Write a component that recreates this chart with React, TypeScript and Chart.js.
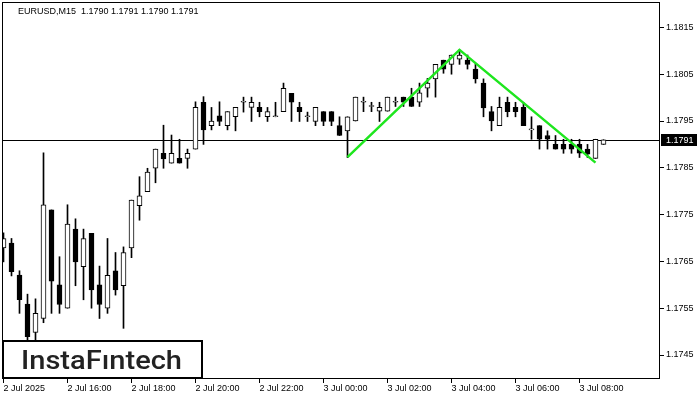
import { useEffect, useRef } from 'react';
import { Chart, registerables } from 'chart.js';

Chart.register(...registerables);

// EURUSD M15, one bar per 15 minutes starting 2 Jul 2025 14:00
const opens = [
  1.17679, 1.17689, 1.17621, 1.17559, 1.17498, 1.17528, 1.17760, 1.17600, 1.17550, 1.17719,
  1.17639, 1.17710, 1.17600, 1.17550, 1.17630, 1.17598, 1.17679, 1.17769, 1.17799, 1.17849,
  1.17881, 1.17860, 1.17870, 1.17870, 1.17890, 1.17990, 1.17940, 1.17961, 1.17940, 1.17959,
  1.17990, 1.17979, 1.17979, 1.17959, 1.17959, 1.17970, 1.18009, 1.17979, 1.17959, 1.17949,
  1.17970, 1.17970, 1.17940, 1.17929, 1.17950, 1.17990, 1.17981, 1.17971, 1.17971, 1.17990,
  1.18001, 1.18001, 1.17990, 1.18020, 1.18040, 1.18080, 1.18071, 1.18082, 1.18080, 1.18061,
  1.18031, 1.17970, 1.17940, 1.17990, 1.17979, 1.17979, 1.17931, 1.17940, 1.17919, 1.17900,
  1.17900, 1.17900, 1.17900, 1.17890, 1.17870, 1.17900,
];
const highs = [
  1.17711, 1.17699, 1.17630, 1.17580, 1.17570, 1.17882, 1.17760, 1.17660, 1.17771, 1.17741,
  1.17719, 1.17710, 1.17640, 1.17699, 1.17669, 1.17681, 1.17781, 1.17831, 1.17849, 1.17890,
  1.17941, 1.17920, 1.17911, 1.17890, 1.17991, 1.18002, 1.17979, 1.17991, 1.17970, 1.17979,
  1.18001, 1.18001, 1.17990, 1.17979, 1.17990, 1.18031, 1.18009, 1.17990, 1.17969, 1.17979,
  1.17970, 1.17970, 1.17959, 1.17959, 1.18001, 1.18001, 1.17990, 1.17990, 1.18001, 1.18001,
  1.18001, 1.18020, 1.18031, 1.18041, 1.18071, 1.18080, 1.18091, 1.18102, 1.18091, 1.18072,
  1.18040, 1.17981, 1.18001, 1.18001, 1.17990, 1.17990, 1.17959, 1.17940, 1.17929, 1.17919,
  1.17911, 1.17911, 1.17911, 1.17900, 1.17911, 1.17910,
];
const lows = [
  1.17649, 1.17619, 1.17539, 1.17482, 1.17482, 1.17519, 1.17539, 1.17539, 1.17550, 1.17598,
  1.17568, 1.17550, 1.17528, 1.17539, 1.17578, 1.17507, 1.17658, 1.17738, 1.17799, 1.17818,
  1.17849, 1.17860, 1.17860, 1.17849, 1.17890, 1.17900, 1.17931, 1.17940, 1.17931, 1.17929,
  1.17969, 1.17949, 1.17959, 1.17949, 1.17959, 1.17970, 1.17949, 1.17949, 1.17949, 1.17940,
  1.17940, 1.17940, 1.17919, 1.17872, 1.17950, 1.17970, 1.17970, 1.17949, 1.17971, 1.17981,
  1.17981, 1.17981, 1.17981, 1.18001, 1.18001, 1.18052, 1.18050, 1.18071, 1.18061, 1.18031,
  1.17959, 1.17929, 1.17940, 1.17959, 1.17959, 1.17940, 1.17911, 1.17890, 1.17890, 1.17890,
  1.17881, 1.17881, 1.17872, 1.17872, 1.17870, 1.17900,
];
const closes = [
  1.17699, 1.17628, 1.17568, 1.17489, 1.17539, 1.17771, 1.17608, 1.17558, 1.17730, 1.17649,
  1.17699, 1.17589, 1.17558, 1.17620, 1.17589, 1.17669, 1.17781, 1.17790, 1.17841, 1.17890,
  1.17869, 1.17881, 1.17860, 1.17881, 1.17979, 1.17931, 1.17950, 1.17949, 1.17970, 1.17979,
  1.17990, 1.17990, 1.17970, 1.17970, 1.17959, 1.18020, 1.17990, 1.17970, 1.17959, 1.17979,
  1.17949, 1.17949, 1.17919, 1.17959, 1.18001, 1.17990, 1.17981, 1.17979, 1.18001, 1.17990,
  1.17990, 1.17981, 1.18010, 1.18031, 1.18071, 1.18061, 1.18091, 1.18091, 1.18071, 1.18040,
  1.17978, 1.17950, 1.17979, 1.17970, 1.17970, 1.17940, 1.17931, 1.17911, 1.17911, 1.17890,
  1.17890, 1.17890, 1.17881, 1.17879, 1.17911, 1.17910,
];

// time-axis ticks (bar index → label)
const xTickIndex = [0, 8, 16, 24, 32, 40, 48, 56, 64, 72];
const xTickLabels = [
  '2 Jul 2025', '2 Jul 16:00', '2 Jul 18:00', '2 Jul 20:00', '2 Jul 22:00',
  '3 Jul 00:00', '3 Jul 02:00', '3 Jul 04:00', '3 Jul 06:00', '3 Jul 08:00',
];
const yTickValues = [1.1745, 1.1755, 1.1765, 1.1775, 1.1785, 1.1795, 1.1805, 1.1815];

// double top pattern outline
const patternIndex = [43, 57, 74];
const patternValues = [1.17873, 1.18102, 1.17861];

const symbol = 'EURUSD,M15';
const bidPrice = 1.1791;
const lastBar = ['1.1790', '1.1791', '1.1790', '1.1791'];
const logoText = 'InstaFıntech';

const AXIS_FAMILY = '"Liberation Sans", Arial, sans-serif';

export default function App() {
  const ref = useRef<HTMLCanvasElement | null>(null);

  useEffect(() => {
    if (!ref.current) return;
    const bodies = opens.map((o, i) => ({ x: i, y: [o, closes[i]] }));
    const wicks = lows.map((l, i) => ({ x: i, y: [l, highs[i]] }));
    const bodyColors = opens.map((o, i) => (closes[i] >= o ? '#ffffff' : '#000000'));
    const pattern = patternIndex.map((x, i) => ({ x, y: patternValues[i] }));

    const overlay = {
      id: 'mt4overlay',
      beforeDatasetsDraw(chart: any) {
        const { ctx, chartArea, scales } = chart;
        const y = Math.round(scales.y.getPixelForValue(bidPrice)) + 0.5;
        ctx.save();
        ctx.strokeStyle = '#000';
        ctx.lineWidth = 1;
        ctx.beginPath();
        ctx.moveTo(chartArea.left, y);
        ctx.lineTo(chartArea.right, y);
        ctx.stroke();
        ctx.restore();
      },
      afterDraw(chart: any) {
        const { ctx, chartArea, scales } = chart;
        ctx.save();
        // frame
        ctx.strokeStyle = '#000';
        ctx.lineWidth = 1;
        ctx.strokeRect(chartArea.left + 0.5, chartArea.top - 0.5, chartArea.right - chartArea.left - 1, chartArea.bottom - chartArea.top);
        // header
        ctx.fillStyle = '#000';
        ctx.font = `9px ${AXIS_FAMILY}`;
        ctx.textBaseline = 'middle';
        ctx.textAlign = 'left';
        ctx.fillText(`${symbol}  ${lastBar.join(' ')}`, 18, 12);
        // bid price box
        const by = scales.y.getPixelForValue(bidPrice);
        ctx.fillStyle = '#000';
        ctx.fillRect(chartArea.right + 1, Math.round(by) - 6, 36, 12);
        ctx.fillStyle = '#fff';
        ctx.fillText(bidPrice.toFixed(4), chartArea.right + 6, Math.round(by) + 0.5);
        // logo
        const lx = chartArea.left + 1, ly = 341, lw = 199, lh = 37;
        ctx.fillStyle = '#fff';
        ctx.fillRect(lx, ly, lw, lh);
        ctx.strokeStyle = '#000';
        ctx.lineWidth = 2;
        ctx.strokeRect(lx, ly, lw, lh);
        ctx.fillStyle = '#222';
        ctx.font = '500 25px Roboto, "Noto Sans", sans-serif';
        const w = ctx.measureText(logoText).width;
        ctx.textBaseline = 'alphabetic';
        ctx.save();
        ctx.translate(21, 368.5);
        ctx.scale(161 / w, 1);
        ctx.fillText(logoText, 0, 0);
        ctx.restore();
        ctx.restore();
      },
    };

    const chart = new Chart(ref.current, {
      type: 'bar',
      data: {
        datasets: [
          {
            type: 'line',
            data: pattern,
            borderColor: 'rgb(30,230,30)',
            borderWidth: 2.5,
            pointRadius: 0,
            order: 1,
          } as any,
          {
            data: wicks,
            backgroundColor: '#000',
            barThickness: 1,
            grouped: false,
            order: 3,
          } as any,
          {
            data: bodies,
            backgroundColor: bodyColors,
            borderColor: '#000',
            borderWidth: 1,
            borderSkipped: false,
            barThickness: 5,
            minBarLength: 1,
            grouped: false,
            order: 2,
          } as any,
        ],
      },
      options: {
        animation: false,
        responsive: false,
        events: [],
        layout: { padding: { left: 2, top: 3, right: 0, bottom: 0 } },
        plugins: { legend: { display: false }, tooltip: { enabled: false }, title: { display: false } },
        scales: {
          x: {
            type: 'linear',
            offset: false,
            min: -0.1875,
            max: 82.0625,
            bounds: 'data',
            grid: { offset: false, drawOnChartArea: false, drawTicks: true, tickLength: 4, color: '#000' },
            border: { display: false },
            ticks: {
              align: 'start',
              autoSkip: false,
              maxRotation: 0,
              padding: 0,
              color: '#000',
              font: { family: AXIS_FAMILY, size: 9 },
              callback: (_v: any, i: number) => xTickLabels[i],
            },
            afterBuildTicks: (s: any) => {
              s.ticks = xTickIndex.map((v) => ({ value: v }));
            },
            afterFit: (s: any) => {
              s.height = 21;
              s.paddingLeft = 0;
              s.paddingRight = 0;
            },
          },
          y: {
            type: 'linear',
            position: 'right',
            min: 1.1739872,
            max: 1.1820214,
            bounds: 'data',
            grid: { drawOnChartArea: false, drawTicks: true, tickLength: 4, color: '#000' },
            border: { display: false },
            ticks: {
              padding: 2,
              color: '#000',
              font: { family: AXIS_FAMILY, size: 9 },
              callback: (v: any) => Number(v).toFixed(4),
            },
            afterBuildTicks: (s: any) => {
              s.ticks = yTickValues.map((v) => ({ value: v }));
            },
            afterFit: (s: any) => {
              s.width = 40;
              s.paddingTop = 0;
              s.paddingBottom = 0;
            },
          },
        },
      } as any,
      plugins: [overlay],
    });
    return () => chart.destroy();
  }, []);

  return (
    <div style={{ position: 'fixed', left: 0, top: 0, width: 700, height: 400, background: '#fff' }}>
      <canvas ref={ref} width={700} height={400} style={{ width: 700, height: 400 }} />
    </div>
  );
}
